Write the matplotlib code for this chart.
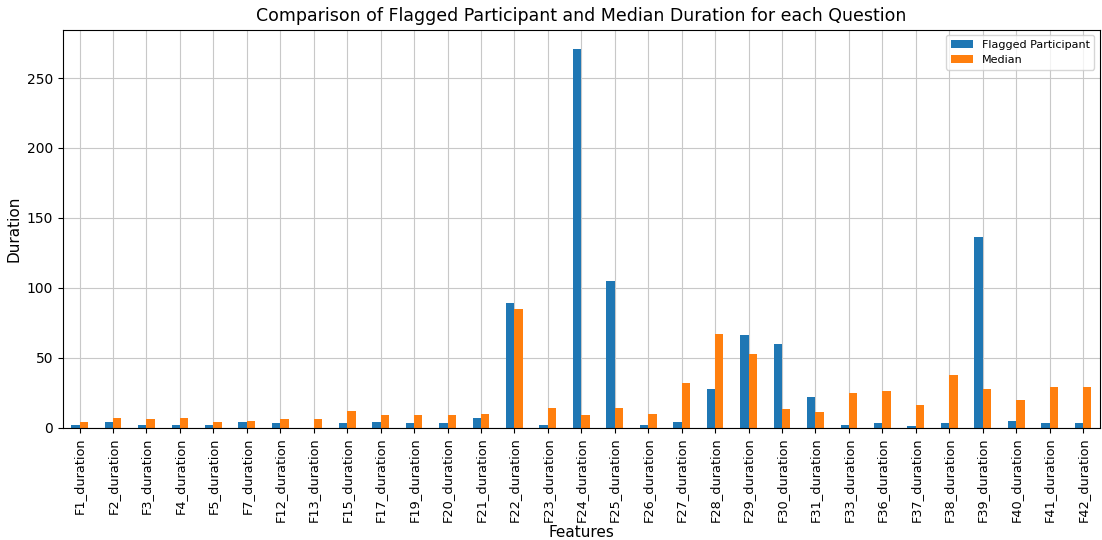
import numpy as np
import pandas as pd
import matplotlib
matplotlib.use("Agg")
import matplotlib.pyplot as plt

features = ["F1", "F2", "F3", "F4", "F5", "F7", "F12", "F13", "F15", "F17",
            "F19", "F20", "F21", "F22", "F23", "F24", "F25", "F26", "F27", "F28",
            "F29", "F30", "F31", "F33", "F36", "F37", "F38", "F39", "F40", "F41", "F42"]
flagged = [2, 4, 2, 2, 2, 4, 3, 0, 3, 4,
           3, 3, 7, 89, 2, 271, 105, 2, 4, 28,
           66, 60, 22, 2, 3, 1, 3, 136, 5, 3, 3]
median = [4, 7, 6, 7, 4, 5, 6, 6, 12, 9,
          9, 9, 10, 85, 14, 9, 14, 10, 32, 67,
          53, 13, 11, 25, 26, 16, 38, 28, 20, 29, 29]

df = pd.DataFrame({"Flagged Participant": flagged, "Median": median},
                  index=[f + "_duration" for f in features])

fig, ax = plt.subplots(figsize=(11.02, 5.4), dpi=100)
df.plot(kind="bar", ax=ax, color=["#1f77b4", "#ff7f0e"])
ax.set_title("Comparison of Flagged Participant and Median Duration for each Question", fontsize=12.5)
ax.set_xlabel("Features", fontsize=11, labelpad=2)
ax.set_ylabel("Duration", fontsize=11)
ax.tick_params(axis="x", labelsize=9.3)
ax.tick_params(axis="y", labelsize=10)
ax.grid(True, color="#c8c8c8")
ax.set_axisbelow(True)
ax.legend(fontsize=8)
fig.subplots_adjust(left=0.057, right=0.998, top=0.945, bottom=0.208)
fig.savefig("out.png")
